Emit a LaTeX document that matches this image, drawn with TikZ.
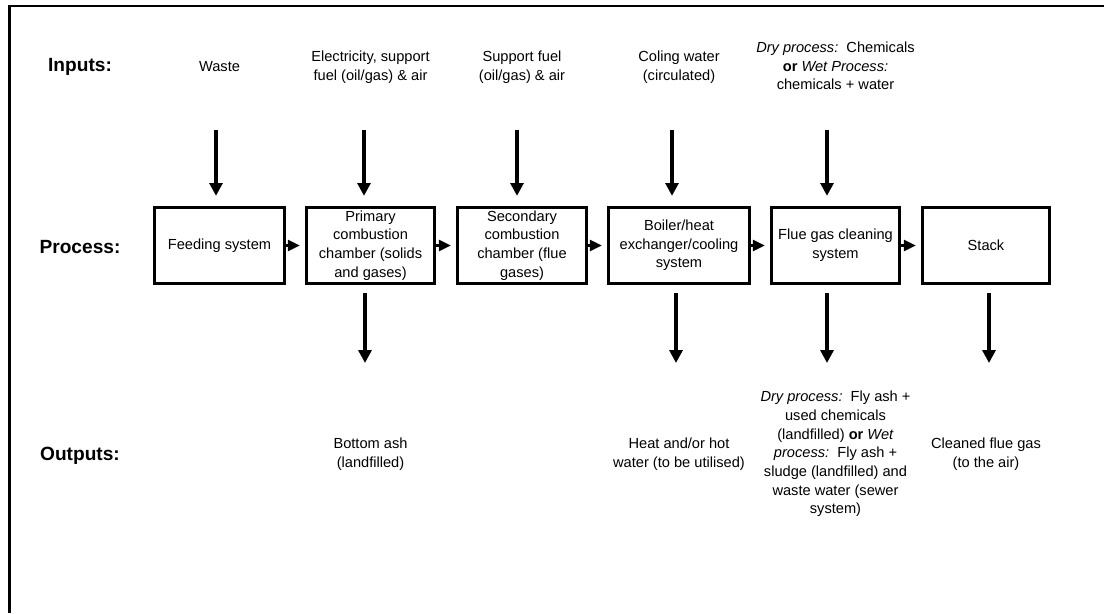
\documentclass[tikz,border=0pt]{standalone}
\usepackage{fontspec}
\setmainfont{Liberation Sans}
\usetikzlibrary{arrows.meta}

\begin{document}
\begin{tikzpicture}[x=0.025cm,y=-0.025cm,
  every node/.style={font=\fontsize{10.4}{13.3}\selectfont, align=center},
  rowlabel/.style={font=\fontsize{13.6}{16}\selectfont\bfseries},
  procbox/.style={draw, line width=2.3pt, minimum height=1.9cm, inner sep=2pt},
  flowarrow/.style={line width=2.8pt, -{Triangle[length=0.32cm,width=0.32cm]}},
  linkarrow/.style={line width=2.3pt, -{Triangle[length=0.3cm,width=0.27cm]}, shorten >=0.125cm}]
\useasboundingbox (0,0) rectangle (1104,613);
%draw frame (open to the right and below)
\draw [line width=2pt] (9.3,613) -- (9.3,6) -- (1104,6);
%draw row labels
\draw (80,67) node[rowlabel] (l-in) {Inputs:};
\draw (80,247) node[rowlabel] (l-proc) {Process:};
\draw (80,456) node[rowlabel] (l-out) {Outputs:};
% Process steps
\draw (219.5,245.5) node[procbox, minimum width=3.25cm] (feed) {Feeding system};
\draw (370.5,245.5) node[procbox, minimum width=3.2cm] (prim) {Primary\\ combustion\\ chamber (solids\\ and gases)};
\draw (522,245.5) node[procbox, minimum width=3.225cm] (sec) {Secondary\\ combustion\\ chamber (flue\\ gases)};
\draw (679,245.5) node[procbox, minimum width=3.525cm] (boil) {Boiler/heat\\ exchanger/cooling\\ system};
\draw (835.5,245.5) node[procbox, minimum width=3.2cm] (flue) {Flue gas cleaning\\ system};
\draw (986,245.5) node[procbox, minimum width=3.175cm] (stack) {Stack};
% draw links between steps
\draw [linkarrow] (feed.east) -- (prim.west);
\draw [linkarrow] (prim.east) -- (sec.west);
\draw [linkarrow] (sec.east) -- (boil.west);
\draw [linkarrow] (boil.east) -- (flue.west);
\draw [linkarrow] (flue.east) -- (stack.west);
% Inputs
\draw (219.5,67) node (t-waste) {Waste};
\draw (370.5,67) node (t-elec) {Electricity, support\\ fuel (oil/gas) \& air};
\draw (522,67) node (t-fuel) {Support fuel\\ (oil/gas) \& air};
\draw (679,67) node (t-cool) {Coling water\\ (circulated)};
\draw (835.5,66) node (t-chem) {\textit{Dry process:}\ \ Chemicals\\ \textbf{or} \textit{Wet Process:}\\ chemicals + water};
% draw input arrows
\foreach \n/\x in {feed/216, prim/364, sec/517, boil/672, flue/827}{
   \coordinate (in-\n) at (\x,130);
   \draw [flowarrow, shorten >=0.25cm] (in-\n) -- (in-\n |- \n.north);
}
% draw output arrows
\foreach \n/\x in {prim/365, boil/676, flue/827, stack/989}{
   \coordinate (out-\n) at (\x,363);
   \draw [flowarrow, shorten <=0.2cm] (out-\n |- \n.south) -- (out-\n);
}
% Outputs
\draw (370.5,454) node (t-ash) {Bottom ash\\ (landfilled)};
\draw (679,454) node (t-heat) {Heat and/or hot\\ water (to be utilised)};
\draw (835.5,454) node (t-resid) {\textit{Dry process:}\ \ Fly ash +\\ used chemicals\\ (landfilled) \textbf{or} \textit{Wet}\\ \textit{process:}\ \ Fly ash +\\ sludge (landfilled) and\\ waste water (sewer\\ system)};
\draw (986,454) node (t-clean) {Cleaned flue gas\\ (to the air)};
\end{tikzpicture}
\end{document}
